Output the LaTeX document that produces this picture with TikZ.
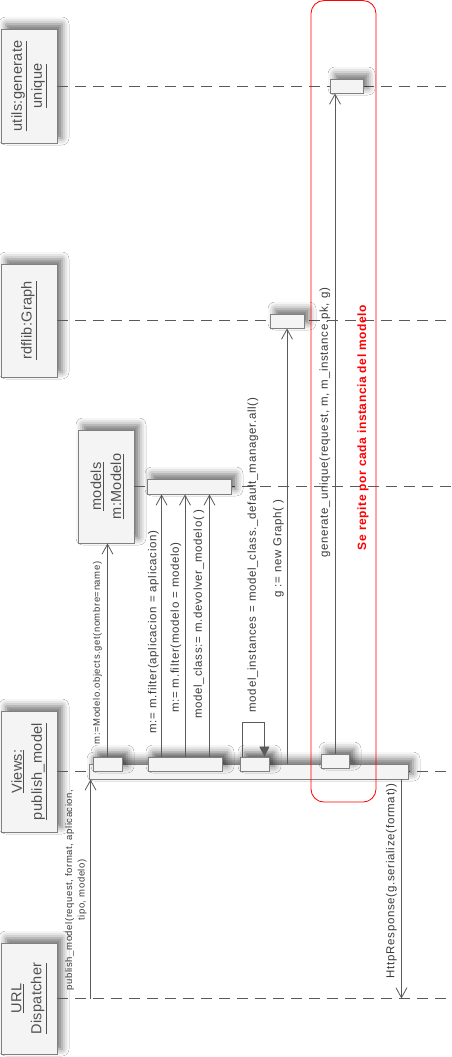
\documentclass[tikz,border=0pt]{standalone}
\usepackage{fontspec}
\setmainfont{Liberation Sans}
\newfontfamily\msgfont[LetterSpace=6]{Liberation Sans}
\newfontfamily\objfont[LetterSpace=2]{Liberation Sans}
\newfontfamily\notefont[LetterSpace=5]{Liberation Sans}
\usetikzlibrary{arrows.meta,shadows.blur,calc}

\definecolor{linegray}{HTML}{5A5A5A}
\definecolor{boxgray}{HTML}{808080}
\definecolor{txtgray}{HTML}{3A3A3A}
\definecolor{objtxt}{HTML}{505050}
\definecolor{boxfill}{HTML}{F4F4F4}
\definecolor{notered}{HTML}{FF0000}

\begin{document}
\begin{tikzpicture}[x=1pt,y=-1pt,
  objbox/.style={draw=boxgray, line width=0.9pt, fill=boxfill, inner sep=0pt,
    blur shadow={shadow xshift=5pt, shadow yshift=5pt, shadow blur radius=7pt, shadow opacity=55}},
  lifeline/.style={draw=linegray, line width=0.9pt, dash pattern=on 11pt off 7pt},
  msg/.style={draw=linegray, line width=0.8pt, -{Straight Barb[length=10pt,width=11pt]}},
  selfmsg/.style={draw=linegray, line width=0.8pt, -{Triangle[length=10pt,width=10pt]}},
  objlabel/.style={rotate=90, align=center, text=objtxt, inner sep=0pt,
    font=\objfont\fontsize{14.5}{20}\selectfont},
  msglabel/.style={rotate=90, align=center, text=txtgray, inner sep=0pt,
    font=\msgfont\fontsize{11.5}{14}\selectfont},
  smalllabel/.style={rotate=90, align=center, text=txtgray, inner sep=0pt,
    font=\msgfont\fontsize{9.5}{12.5}\selectfont},
  note/.style={rotate=90, text=notered, inner sep=0pt,
    font=\notefont\bfseries\fontsize{12}{14}\selectfont},
  loopframe/.style={draw=notered, line width=0.8pt, rounded corners=13pt, inner sep=0pt}
]
\useasboundingbox (0,0) rectangle (452,1057);
\fill[white] (0,0) rectangle (452,1057);
\coordinate (rightedge) at (452,0);

% participants
\node[objbox, minimum width=56pt, minimum height=114pt] (utils)  at (29,86) {};
\node[objbox, minimum width=56pt, minimum height=113pt] (graph)  at (29,320.5) {};
\node[objbox, minimum width=56pt, minimum height=113pt] (models) at (106,486.5) {};
\node[objbox, minimum width=56pt, minimum height=121pt] (views)  at (29,771.5) {};
\node[objbox, minimum width=56pt, minimum height=111pt] (disp)   at (29,998.5) {};

\node[objlabel] at (utils.center)  {\underline{utils:generate}\\\underline{unique}};
\node[objlabel] at (graph.center)  {\underline{rdflib:Graph}};
\node[objlabel] at (107,486.5)     {\underline{models}\\\underline{m:Modelo}};
\node[objlabel] at (views.center)  {\underline{Views:}\\\underline{publish\_model}};
\node[objlabel] at (disp.center)   {\underline{URL}\\\underline{Dispatcher}};

% lifelines
\draw[lifeline] (utils.east)  -- (utils.east -| rightedge);
\draw[lifeline] (graph.east)  -- (graph.east -| rightedge);
\draw[lifeline] (models.east) -- (models.east -| rightedge);
\draw[lifeline] (views.east)  -- (views.east -| rightedge);
\draw[lifeline] (disp.east)   -- (disp.east -| rightedge);

% activations
\node[objbox, minimum width=33pt, minimum height=14pt]  (actU) at (346.5,86) {};
\node[objbox, minimum width=34pt, minimum height=14pt]  (actG) at (287,321) {};
\node[objbox, minimum width=84pt, minimum height=15pt]  (actM) at (189,486.5) {};
\node[objbox, minimum width=319pt, minimum height=15pt] (main) at (248.5,771.5) {};
\node[objbox, minimum width=29pt, minimum height=14pt]  (b1) at (107.5,764) {};
\node[objbox, minimum width=74pt, minimum height=14pt]  (b2) at (185,764) {};
\node[objbox, minimum width=29pt, minimum height=14pt]  (b3) at (254.5,764) {};
\node[objbox, minimum width=28pt, minimum height=14pt]  (b4) at (335,761) {};

% messages
\draw[msg] (b1.north) -- (b1.north |- models.south);
\coordinate (f1) at ($(b2.north west)+(14,0)$);
\coordinate (f2) at (b2.north);
\coordinate (f3) at ($(b2.north east)+(-13,0)$);
\draw[msg] (f1) -- (f1 |- actM.south);
\draw[msg] (f2) -- (f2 |- actM.south);
\draw[msg] (f3) -- (f3 |- actM.south);
\coordinate (s0) at ($(b3.north west)+(3,0)$);
\coordinate (s1) at ($(b3.north east)+(-5,0)$);
\draw[selfmsg] (s0) -- ++(0,-34) -| (s1);
\draw[msg] (main.north -| actG.south) -- (actG.south);
\draw[msg] (b4.north) -- (b4.north |- actU.south);
\coordinate (h0) at ($(main.south east)+(-7,0)$);
\draw[msg] (h0) -- (h0 |- disp.east);
\coordinate (p0) at ($(main.south west)+(2,0)$);
\draw[msg] (p0 |- disp.east) -- (p0);

% message labels
\node[smalllabel] at (97.5,653)  {m:=Modelo.objects.get(nombre=name)};
\node[msglabel]   at (153.5,632) {m:= m.filter(aplicacion = aplicacion)};
\node[msglabel]   at (176,627.5) {m:= m.filter(modelo = modelo)};
\node[msglabel]   at (199,614)   {model\_class:= m.devolver\_modelo( )};
\node[msglabel]   at (253,555)   {model\_instances = model\_class.\_default\_manager.all()};
\node[msglabel]   at (278.5,548.5) {g := new Graph( )};
\node[msglabel]   at (325,423)   {generate\_unique(request, m, m\_instance.pk, g)};
\node[msglabel]   at (391.5,881) {HttpResponse(g.serialize(format))};
\node[smalllabel] at (76,890)    {publish\_model(request, format, aplicacion,\\tipo, modelo)};

% repetition frame
\node[loopframe, minimum width=65pt, minimum height=801.5pt] (loop) at (343.5,401.3) {};
\node[note] at (363,427.5) {Se repite por cada instancia del modelo};
\end{tikzpicture}
\end{document}
